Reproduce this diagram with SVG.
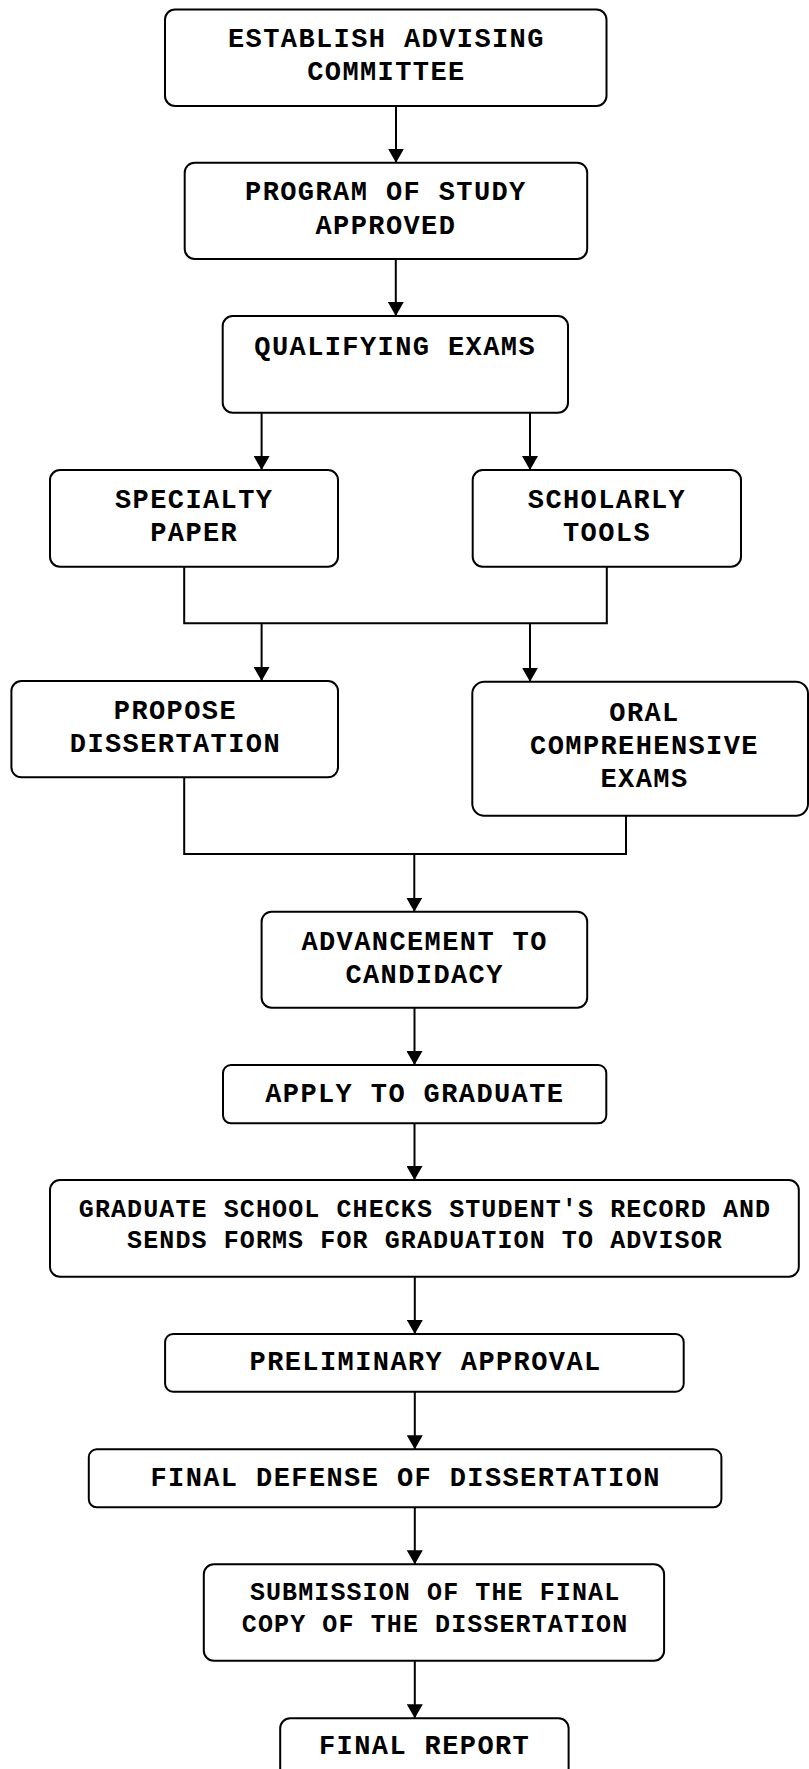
<svg xmlns="http://www.w3.org/2000/svg" width="809" height="1769" viewBox="0 0 809 1769">
<style>
.box{fill:#fff;stroke:#000;stroke-width:2}
.t{font-family:"Liberation Mono","DejaVu Sans Mono",monospace;font-weight:bold;font-size:27px;letter-spacing:1.4px;text-anchor:middle;fill:#000}
.s{font-size:25px;letter-spacing:1.1px}
.c{fill:none;stroke:#000;stroke-width:2}
</style>
<defs>
<marker id="ah" markerUnits="userSpaceOnUse" viewBox="0 0 14 16" markerWidth="14" markerHeight="16" refX="14" refY="8" orient="auto">
<path d="M0,0 L14,8 L0,16 z" fill="#000"/>
</marker>
</defs>
<rect width="809" height="1769" fill="#fff"/>
<g id="connectors">
<path class="c" d="M396,106 V162.7" marker-end="url(#ah)"/>
<path class="c" d="M395.8,259 V316" marker-end="url(#ah)"/>
<path class="c" d="M261.6,412.7 V470" marker-end="url(#ah)"/>
<path class="c" d="M530,412.7 V470" marker-end="url(#ah)"/>
<path class="c" d="M184.2,566.7 V623.3 H606.8 V566.7"/>
<path class="c" d="M261.6,623.3 V681" marker-end="url(#ah)"/>
<path class="c" d="M530,623.3 V681.7" marker-end="url(#ah)"/>
<path class="c" d="M184.2,777.3 V854 H626 V815.7"/>
<path class="c" d="M414.3,854 V911.7" marker-end="url(#ah)"/>
<path class="c" d="M414.5,1007.7 V1065" marker-end="url(#ah)"/>
<path class="c" d="M414.5,1123.3 V1180" marker-end="url(#ah)"/>
<path class="c" d="M414.8,1276.7 V1334" marker-end="url(#ah)"/>
<path class="c" d="M414.8,1391.7 V1449.3" marker-end="url(#ah)"/>
<path class="c" d="M414.8,1507.3 V1564.3" marker-end="url(#ah)"/>
<path class="c" d="M414.8,1660.7 V1718.3" marker-end="url(#ah)"/>
</g>
<g id="n1"><rect class="box" x="165" y="9.5" width="441.5" height="96.5" rx="10"/>
<text class="t" x="386.4" y="46.7">ESTABLISH ADVISING</text><text class="t" x="386.4" y="80">COMMITTEE</text></g>
<g id="n2"><rect class="box" x="184.7" y="162.7" width="402.5" height="96.3" rx="10"/>
<text class="t" x="385.9" y="200">PROGRAM OF STUDY</text><text class="t" x="385.9" y="234">APPROVED</text></g>
<g id="n3"><rect class="box" x="222.7" y="316" width="345.3" height="96.7" rx="10"/>
<text class="t" x="395.2" y="355">QUALIFYING EXAMS</text></g>
<g id="n4"><rect class="box" x="50" y="470" width="288" height="96.7" rx="10"/>
<text class="t" x="194.2" y="507.5">SPECIALTY</text><text class="t" x="194.2" y="541">PAPER</text></g>
<g id="n5"><rect class="box" x="472.7" y="470" width="268.3" height="96.7" rx="10"/>
<text class="t" x="607" y="507.5">SCHOLARLY</text><text class="t" x="607" y="541">TOOLS</text></g>
<g id="n6"><rect class="box" x="11.4" y="681" width="326.6" height="96.3" rx="10"/>
<text class="t" x="175.4" y="719">PROPOSE</text><text class="t" x="175.4" y="751.5">DISSERTATION</text></g>
<g id="n7"><rect class="box" x="472.3" y="681.7" width="335.7" height="134" rx="12"/>
<text class="t" x="644.5" y="721">ORAL</text><text class="t" x="644.5" y="754">COMPREHENSIVE</text><text class="t" x="644.5" y="787">EXAMS</text></g>
<g id="n8"><rect class="box" x="261.6" y="911.7" width="325.6" height="96" rx="10"/>
<text class="t" x="424.6" y="950">ADVANCEMENT TO</text><text class="t" x="424.6" y="983">CANDIDACY</text></g>
<g id="n9"><rect class="box" x="223" y="1065" width="383.3" height="58.3" rx="8"/>
<text class="t" x="414.8" y="1101.5">APPLY TO GRADUATE</text></g>
<g id="n10"><rect class="box" x="50" y="1180" width="748.8" height="96.7" rx="10"/>
<text class="t s" x="425" y="1217">GRADUATE SCHOOL CHECKS STUDENT'S RECORD AND</text><text class="t s" x="425" y="1247.5">SENDS FORMS FOR GRADUATION TO ADVISOR</text></g>
<g id="n11"><rect class="box" x="165.1" y="1334" width="518.6" height="57.7" rx="8"/>
<text class="t" x="425.6" y="1370">PRELIMINARY APPROVAL</text></g>
<g id="n12"><rect class="box" x="88.8" y="1449.3" width="632.6" height="58" rx="8"/>
<text class="t" x="405.7" y="1486">FINAL DEFENSE OF DISSERTATION</text></g>
<g id="n13"><rect class="box" x="203.8" y="1564.3" width="460.3" height="96.4" rx="10"/>
<text class="t s" x="435.1" y="1600">SUBMISSION OF THE FINAL</text><text class="t s" x="435.1" y="1631.5">COPY OF THE DISSERTATION</text></g>
<g id="n14"><rect class="box" x="280.2" y="1718.3" width="288.4" height="96" rx="10"/>
<text class="t" x="424.6" y="1753.5">FINAL REPORT</text></g>
</svg>
